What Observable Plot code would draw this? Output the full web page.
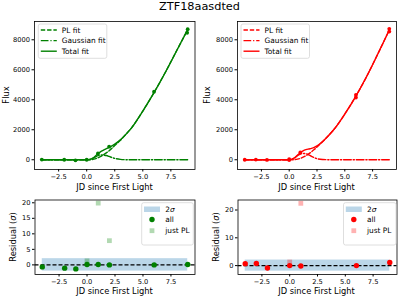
<!DOCTYPE html>
<html>
<head>
<meta charset="utf-8">
<script src="https://cdn.jsdelivr.net/npm/d3@7"></script>
<script src="https://cdn.jsdelivr.net/npm/@observablehq/plot@0.6"></script>
<style>
  html, body { margin: 0; padding: 0; background: #fff; }
  #root { position: relative; width: 399px; height: 297px; overflow: hidden; background: #fff; font-family: "DejaVu Sans", sans-serif; }
  #root svg { position: absolute; }
</style>
</head>
<body>
<div id="root"></div>
<script>
// ---------- data ----------
const title = "ZTF18aasdted";
const xLabel = "JD since First Light";
const fluxLabel = "Flux";
const residLabel = "Residual (";

// light-curve observations, left (green) and right (red)
const gObsX = [-4, -2, -1, 0, 1, 2, 6, 8.95, 9];
const gObsY = [10, 0, -40, 0, 420, 870, 4540, 8470, 8710];
const rObsX = [-4, -3, -2, 0, 0, 1, 6, 6, 9, 9];
const rObsY = [0, 10, -10, 40, -20, 485, 4150, 4330, 8550, 8730];

// fitted curves
const fitX   = [-4, -3, -2, -1, 0, 0.25, 0.5, 0.75, 1, 1.25, 1.5, 1.75, 2, 2.25, 2.5, 3, 3.5, 4, 5, 6, 7, 8, 9];
const gPL    = [0, 0, 0, 0, 0, 2, 20, 60, 130, 220, 330, 460, 600, 770, 950, 1300, 1700, 2130, 3250, 4480, 5820, 7250, 8680];
const gGauss = [0, 0, 0, 0, 0, 15, 70, 170, 270, 320, 310, 280, 220, 150, 90, 25, 5, 0, 0, 0, 0, 0, 0];
const gTotal = [0, 0, 0, 0, 0, 17, 90, 230, 400, 540, 640, 740, 820, 920, 1040, 1325, 1705, 2130, 3250, 4480, 5820, 7250, 8680];
const rPL    = [0, 0, 0, 0, 0, 0, 10, 40, 90, 170, 270, 390, 530, 680, 850, 1200, 1580, 2000, 3050, 4250, 5600, 7100, 8650];
const rGauss = [0, 0, 0, 0, 0, 40, 130, 270, 380, 420, 400, 330, 230, 140, 70, 15, 3, 0, 0, 0, 0, 0, 0];
const rTotal = [0, 0, 0, 0, 0, 40, 140, 310, 470, 590, 670, 720, 760, 820, 920, 1215, 1583, 2000, 3050, 4250, 5600, 7100, 8650];

// residuals
const gResX   = [-4, -2, -1, 0, 1, 2, 6, 9];
const gResAll = [-0.65, -1.05, -1.3, 0.1, 0.1, 0.0, 0.0, 0.1];
const gPLX    = [0, 1, 2];
const gPLRes  = [1.3, 19.9, 7.8];
const rResX   = [-4, -3, -2, 0, 1, 6, 9];
const rResAll = [0.7, 0.8, -0.85, 0.0, -0.15, 0.0, 1.1];
const rPLX    = [0, 1];
const rPLRes  = [1.3, 22.4];
const bandX = [-4, 9];
const bandSigma = 2;

const xTicks = [-2.5, 0, 2.5, 5, 7.5];
const fluxTicks = [0, 2000, 4000, 6000, 8000];
const gResTicks = [0, 5, 10, 15, 20];
const rResTicks = [0, 10, 20];

const green = "#008000", red = "#ff0000", bandColor = "#1f77b4";

// ---------- helpers ----------
const zip = (xs, ys) => xs.map((x, i) => ({x, y: ys[i]}));
const fmtX = d3.format(".1f");
const fmtI = d3.format("d");
const root = document.getElementById("root");
const baseStyle = {fontFamily: "DejaVu Sans", fontSize: "6.7px", background: "transparent", color: "#000", overflow: "visible"};
const LW = 1.4;

function place(svg, left, top) {
  svg.style.left = left + "px";
  svg.style.top = top + "px";
  root.appendChild(svg);
}

function topPanel(color, obsX, obsY, pl, gauss, total, frame) {
  return Plot.plot({
    width: frame.w, height: frame.h,
    marginLeft: frame.ml, marginRight: frame.mr, marginTop: frame.mt, marginBottom: frame.mb,
    style: baseStyle,
    x: {domain: [-4.65, 9.65], ticks: xTicks, tickFormat: fmtX, tickSize: 2.5, tickPadding: 2, label: null},
    y: {domain: [-650, 9220], ticks: fluxTicks, tickFormat: fmtI, tickSize: 2.5, tickPadding: 2, label: null},
    marks: [
      Plot.line(zip(fitX, pl), {x: "x", y: "y", stroke: color, strokeWidth: LW, strokeDasharray: "4.4,1.9", curve: "monotone-x"}),
      Plot.line(zip(fitX, gauss), {x: "x", y: "y", stroke: color, strokeWidth: LW, strokeDasharray: "7.7,1.9,1.2,1.9", curve: "monotone-x"}),
      Plot.line(zip(fitX, total), {x: "x", y: "y", stroke: color, strokeWidth: LW, curve: "monotone-x"}),
      Plot.dot(zip(obsX, obsY), {x: "x", y: "y", r: 1.9, fill: color, stroke: "none"}),
      Plot.frame({stroke: "#000", strokeWidth: 0.8})
    ]
  });
}

function resPanel(color, resX, resAll, plX, plRes, yDomain, yTicks, frame) {
  return Plot.plot({
    width: frame.w, height: frame.h,
    marginLeft: frame.ml, marginRight: frame.mr, marginTop: frame.mt, marginBottom: frame.mb,
    style: baseStyle,
    x: {domain: [-4.65, 9.65], ticks: xTicks, tickFormat: fmtX, tickSize: 2.5, tickPadding: 2, label: null},
    y: {domain: yDomain, ticks: yTicks, tickFormat: fmtI, tickSize: 2.5, tickPadding: 2, label: null},
    marks: [
      Plot.rect([{x1: bandX[0], x2: bandX[1], y1: -bandSigma, y2: bandSigma}], {x1: "x1", x2: "x2", y1: "y1", y2: "y2", fill: bandColor, fillOpacity: 0.3}),
      Plot.ruleY([0], {stroke: "#000", strokeWidth: 1.1, strokeDasharray: "4,2"}),
      Plot.dot(zip(resX, resAll), {x: "x", y: "y", r: 2.7, fill: color, stroke: "none"}),
      Plot.dot(zip(plX, plRes), {x: "x", y: "y", r: 2.7, symbol: "square", fill: color, fillOpacity: 0.3, stroke: "none"}),
      Plot.frame({stroke: "#000", strokeWidth: 0.8})
    ]
  });
}

// ---------- panels ----------
place(topPanel(green, gObsX, gObsY, gPL, gGauss, gTotal, {w: 200, h: 190, ml: 34, mr: 5.5, mt: 21, mb: 21}), 0, 0);
place(topPanel(red, rObsX, rObsY, rPL, rGauss, rTotal, {w: 199, h: 190, ml: 37, mr: 3, mt: 21, mb: 21}), 200, 0);
place(resPanel(green, gResX, gResAll, gPLX, gPLRes, [-3.1, 20.9], gResTicks, {w: 200, h: 107, ml: 34.5, mr: 5.5, mt: 9.5, mb: 23}), 0, 190);
place(resPanel(red, rResX, rResAll, rPLX, rPLRes, [-3.2, 23.6], rResTicks, {w: 199, h: 107, ml: 37.5, mr: 2.5, mt: 9.5, mb: 23}), 200, 190);

// ---------- overlay: title, axis labels, legends ----------
const ov = d3.select(root).append("svg")
  .attr("width", 399).attr("height", 297)
  .style("left", "0px").style("top", "0px")
  .attr("font-family", "DejaVu Sans");

ov.append("text").attr("x", 199.5).attr("y", 10).attr("text-anchor", "middle")
  .attr("font-size", 11.3).text(title);

function xlab(cx, cy) {
  ov.append("text").attr("x", cx).attr("y", cy).attr("text-anchor", "middle")
    .attr("dominant-baseline", "central").attr("font-size", 8.3).text(xLabel);
}
function ylab(cx, cy, isResid) {
  const t = ov.append("text").attr("transform", `translate(${cx},${cy}) rotate(-90)`)
    .attr("text-anchor", "middle").attr("dominant-baseline", "central").attr("font-size", 8.3);
  if (isResid) {
    t.append("tspan").text(residLabel);
    t.append("tspan").attr("font-style", "italic").text("σ");
    t.append("tspan").text(")");
  } else {
    t.text(fluxLabel);
  }
}
xlab(114.5, 186.5); xlab(316.5, 186.5);
xlab(114.5, 290.5); xlab(316.5, 290.5);
ylab(5.5, 95, false); ylab(206.5, 95, false);
ylab(12.5, 237, true); ylab(216, 237, true);

function legendBox(x, y, w, h) {
  ov.append("rect").attr("x", x).attr("y", y).attr("width", w).attr("height", h)
    .attr("rx", 2).attr("fill", "#fff").attr("fill-opacity", 0.8)
    .attr("stroke", "#d6d6d6").attr("stroke-width", 0.8);
}
function fitLegend(x0, color) {
  legendBox(x0, 24, 68.5, 34.3);
  const items = [["PL fit", "4.4,1.9"], ["Gaussian fit", "7.7,1.9,1.2,1.9"], ["Total fit", null]];
  items.forEach(([label, dash], i) => {
    const y = 30 + i * 10.6;
    const l = ov.append("line").attr("x1", x0 + 2.5).attr("x2", x0 + 18.5).attr("y1", y).attr("y2", y)
      .attr("stroke", color).attr("stroke-width", LW);
    if (dash) l.attr("stroke-dasharray", dash);
    ov.append("text").attr("x", x0 + 23.5).attr("y", y).attr("dominant-baseline", "central")
      .attr("font-size", 7.4).text(label);
  });
}
fitLegend(38.3, green);
fitLegend(241, red);

function resLegend(x0, w, color) {
  legendBox(x0, 202.7, w, 42.3);
  const cx = x0 + 10.3;
  ov.append("rect").attr("x", x0 + 2.3).attr("y", 206.5).attr("width", 16).attr("height", 5.5)
    .attr("fill", bandColor).attr("fill-opacity", 0.3);
  const t = ov.append("text").attr("x", x0 + 23.5).attr("y", 209.2).attr("dominant-baseline", "central").attr("font-size", 7.4);
  t.append("tspan").text("2");
  t.append("tspan").attr("font-style", "italic").text("σ");
  ov.append("circle").attr("cx", cx).attr("cy", 219.5).attr("r", 2.7).attr("fill", color);
  ov.append("text").attr("x", x0 + 23.5).attr("y", 219.5).attr("dominant-baseline", "central").attr("font-size", 7.4).text("all");
  ov.append("rect").attr("x", cx - 2.4).attr("y", 230.7 - 2.4).attr("width", 4.8).attr("height", 4.8)
    .attr("fill", color).attr("fill-opacity", 0.3);
  ov.append("text").attr("x", x0 + 23.5).attr("y", 230.7).attr("dominant-baseline", "central").attr("font-size", 7.4).text("just PL");
}
resLegend(141.7, 51.6, green);
resLegend(343.5, 52.5, red);
</script>
</body>
</html>
